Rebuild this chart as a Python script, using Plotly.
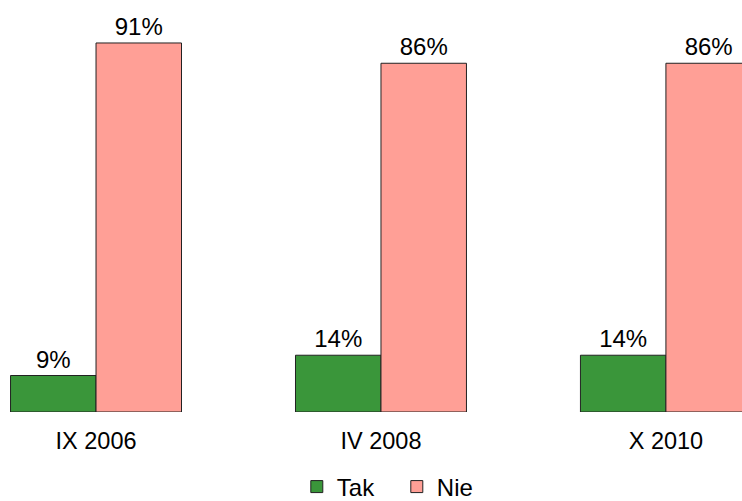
import plotly.graph_objects as go

categories = ["IX 2006", "IV 2008", "X 2010"]
tak = [9, 14, 14]
nie = [91, 86, 86]
series_names = ["Tak", "Nie"]

FONT = "Liberation Sans, Arial, sans-serif"
colors = ["#3a963a", "#ff9f96"]

fig = go.Figure()
for name, vals, col in zip(series_names, [tak, nie], colors):
    fig.add_trace(go.Bar(
        x=categories, y=vals, name=name,
        marker=dict(color=col, line=dict(color="#222222", width=1)),
        text=[f"{v}%" for v in vals], textposition="outside",
        textfont=dict(size=24, color="black", family=FONT),
        cliponaxis=False,
    ))

fig.update_layout(
    width=742, height=501,
    margin=dict(l=0, r=0, t=0, b=89, autoexpand=False),
    barmode="group", bargap=0.4, bargroupgap=0,
    plot_bgcolor="white", paper_bgcolor="white",
    font=dict(family=FONT, size=23.5, color="black"),
    showlegend=True,
    legend=dict(orientation="h", x=0.400, xanchor="left", y=-0.182, yanchor="middle",
                font=dict(size=24), itemwidth=30, entrywidth=55, traceorder="normal"),
    xaxis=dict(range=[-0.337, 2.267], showgrid=False, showline=False, zeroline=False,
               ticks="outside", ticklen=8, tickcolor="rgba(0,0,0,0)",
               tickfont=dict(size=23.5)),
    yaxis=dict(range=[0, 101.6], visible=False),
)
fig.write_html("out.html", config={"displayModeBar": False},
               post_script="document.body.style.margin='0';document.body.style.overflow='hidden';")
